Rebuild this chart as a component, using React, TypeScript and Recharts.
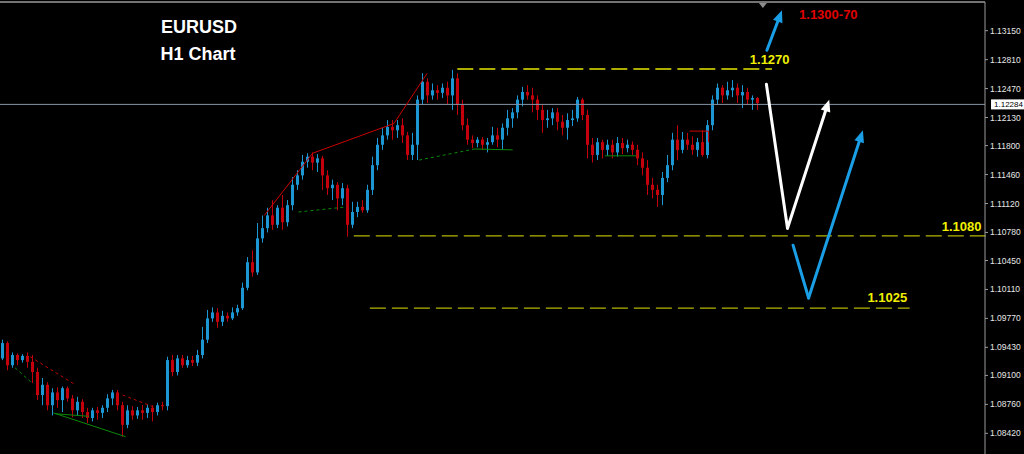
import React from 'react';
import { ComposedChart, Bar, XAxis, YAxis, ReferenceLine, ReferenceDot } from 'recharts';

// ---- candle data (EURUSD H1), open of each bar = previous close ----
const firstOpen = 1.093;
const closes = [
  1.0948,1.0922,1.0934,1.0928,1.0933,1.0926,1.0914,1.0887,1.0899,1.0875,
  1.0890,1.0881,1.0895,1.0883,1.0869,1.0879,1.0867,1.0860,1.0869,1.0866,
  1.0872,1.0883,1.0890,1.0875,1.0852,1.0869,1.0863,1.0869,1.0866,1.0872,
  1.0867,1.0875,1.0874,1.0928,1.0914,1.0930,1.0922,1.0928,1.0925,1.0934,
  1.0952,1.0977,1.0984,1.0973,1.0980,1.0977,1.0984,1.0989,1.1013,1.1043,
  1.1031,1.1071,1.1083,1.1098,1.1087,1.1107,1.1090,1.1110,1.1134,1.1145,
  1.1161,1.1167,1.1160,1.1165,1.1145,1.1130,1.1134,1.1118,1.1130,1.1087,
  1.1102,1.1108,1.1104,1.1128,1.1157,1.1181,1.1192,1.1202,1.1198,1.1204,
  1.1192,1.1169,1.1181,1.1234,1.1255,1.1239,1.1245,1.1242,1.1248,1.1239,
  1.1259,1.1228,1.1204,1.1187,1.1183,1.1187,1.1181,1.1184,1.1192,1.1187,
  1.1201,1.1212,1.1219,1.1234,1.1243,1.1239,1.1234,1.1222,1.1210,1.1212,
  1.1219,1.1208,1.1201,1.1210,1.1212,1.1234,1.1216,1.1181,1.1169,1.1184,
  1.1175,1.1181,1.1172,1.1183,1.1177,1.1181,1.1175,1.1165,1.1154,1.1134,
  1.1128,1.1122,1.1142,1.1157,1.1187,1.1175,1.1187,1.1181,1.1175,1.1184,
  1.1169,1.1204,1.1234,1.1248,1.1239,1.1245,1.1248,1.1239,1.1243,1.1234,
  1.1236,1.1230,
];
const highs = [
  1.0952,1.0950,1.0937,1.0936,1.0935,1.0937,1.0934,1.0919,1.0907,1.0902,
  1.0895,1.0896,1.0897,1.0897,1.0887,1.0885,1.0882,1.0872,1.0872,1.0873,
  1.0875,1.0888,1.0893,1.0893,1.0879,1.0875,1.0874,1.0873,1.0875,1.0876,
  1.0875,1.0878,1.0879,1.0932,1.0934,1.0934,1.0934,1.0933,1.0933,1.0940,
  1.0967,1.0987,1.0990,1.0989,1.0986,1.0984,1.0990,1.0993,1.1019,1.1049,
  1.1057,1.1089,1.1098,1.1107,1.1116,1.1110,1.1122,1.1116,1.1143,1.1151,
  1.1169,1.1171,1.1172,1.1170,1.1168,1.1151,1.1140,1.1137,1.1136,1.1134,
  1.1114,1.1114,1.1116,1.1134,1.1167,1.1189,1.1201,1.1210,1.1210,1.1210,
  1.1212,1.1196,1.1195,1.1239,1.1265,1.1259,1.1253,1.1251,1.1253,1.1255,
  1.1269,1.1265,1.1234,1.1212,1.1192,1.1190,1.1190,1.1189,1.1202,1.1201,
  1.1206,1.1222,1.1224,1.1239,1.1249,1.1251,1.1248,1.1239,1.1228,1.1222,
  1.1224,1.1224,1.1216,1.1218,1.1222,1.1237,1.1236,1.1222,1.1189,1.1189,
  1.1187,1.1187,1.1187,1.1190,1.1189,1.1187,1.1185,1.1181,1.1172,1.1163,
  1.1142,1.1134,1.1149,1.1169,1.1195,1.1204,1.1196,1.1195,1.1191,1.1189,
  1.1198,1.1210,1.1239,1.1253,1.1251,1.1255,1.1257,1.1253,1.1251,1.1248,
  1.1239,1.1237,
];
const lows = [
  1.0928,1.0916,1.0919,1.0922,1.0925,1.0919,1.0901,1.0881,1.0875,1.0869,
  1.0863,1.0872,1.0867,1.0879,1.0861,1.0863,1.0860,1.0854,1.0856,1.0858,
  1.0860,1.0867,1.0875,1.0869,1.0838,1.0848,1.0858,1.0859,1.0858,1.0860,
  1.0856,1.0863,1.0869,1.0869,1.0909,1.0910,1.0919,1.0919,1.0921,1.0921,
  1.0930,1.0948,1.0973,1.0966,1.0968,1.0973,1.0975,1.0980,1.0987,1.1010,
  1.1026,1.1028,1.1066,1.1078,1.1081,1.1083,1.1081,1.1085,1.1104,1.1128,
  1.1140,1.1154,1.1151,1.1149,1.1128,1.1122,1.1116,1.1104,1.1110,1.1073,
  1.1083,1.1096,1.1101,1.1101,1.1122,1.1151,1.1175,1.1187,1.1187,1.1189,
  1.1183,1.1163,1.1163,1.1163,1.1228,1.1230,1.1234,1.1234,1.1236,1.1228,
  1.1222,1.1216,1.1198,1.1181,1.1177,1.1178,1.1175,1.1172,1.1181,1.1178,
  1.1175,1.1192,1.1201,1.1212,1.1226,1.1234,1.1219,1.1210,1.1195,1.1201,
  1.1204,1.1198,1.1192,1.1187,1.1203,1.1208,1.1210,1.1165,1.1160,1.1163,
  1.1165,1.1168,1.1165,1.1167,1.1170,1.1172,1.1169,1.1157,1.1145,1.1122,
  1.1118,1.1108,1.1110,1.1137,1.1151,1.1163,1.1171,1.1175,1.1169,1.1167,
  1.1167,1.1165,1.1198,1.1228,1.1230,1.1234,1.1237,1.1230,1.1224,1.1228,
  1.1222,1.1222,
];
const totalSlots = 197; // bars + empty future space

// ---- axis ----
const priceDomain = [1.08177, 1.13487];
const yTicks = [1.1315, 1.1281, 1.1247, 1.1213, 1.118, 1.1146, 1.1112, 1.1078, 1.1045, 1.1011, 1.0977, 1.0943, 1.091, 1.0876, 1.0842];
const currentPrice = 1.12284;

// ---- annotations (x in bar slots, y in price) ----
const resistance = { price: 1.127, from: 91, to: 153.6 };
const support1 = { price: 1.1074, from: 70.4, to: 196.9 };
const support2 = { price: 1.0989, from: 73.6, to: 181 };
const upArrow = [{ x: 152.6, y: 1.1292 }, { x: 155.6, y: 1.1339 }];
const whitePath = [{ x: 152.5, y: 1.1252 }, { x: 156.7, y: 1.1083 }, { x: 165, y: 1.1234 }];
const bluePath = [{ x: 157.8, y: 1.1063 }, { x: 160.9, y: 1.1001 }, { x: 171.7, y: 1.1198 }];
const redTrend = [{ x: 52.6, y: 1.1098 }, { x: 62.2, y: 1.1171 }, { x: 78.4, y: 1.1206 }, { x: 85, y: 1.1265 }];
const redBox = [{ x: 137.2, y: 1.1197 }, { x: 141, y: 1.1197 }, { x: 141, y: 1.1184 }];
const greenDashed = [
  [{ x: 59.4, y: 1.1102 }, { x: 69, y: 1.1108 }],
  [{ x: 83.4, y: 1.1163 }, { x: 94.4, y: 1.1176 }],
  [{ x: 3, y: 1.0919 }, { x: 6.4, y: 1.0901 }],
];
const greenSolid = [
  [{ x: 94.4, y: 1.1176 }, { x: 102, y: 1.1175 }],
  [{ x: 10.6, y: 1.0866 }, { x: 25, y: 1.0838 }],
  [{ x: 11, y: 1.0865 }, { x: 17.6, y: 1.0862 }],
  [{ x: 120.4, y: 1.1168 }, { x: 126.6, y: 1.1168 }],
];
const redDashed = [
  [{ x: 6, y: 1.0932 }, { x: 15, y: 1.0899 }],
  [{ x: 24.4, y: 1.0887 }, { x: 31, y: 1.0872 }],
];
const levelLabels = [
  { text: '1.1270', x: 149.2, y: 1.1276 },
  { text: '1.1080', x: 187.4, y: 1.108 },
  { text: '1.1025', x: 172.6, y: 1.0996 },
];
const targetLabel = { text: '1.1300-70', x: 159, y: 1.1329 };
const shiftMarker = { x: 151.8, y: 1.13487 };

const BULL = '#1d96d4';
const BEAR = '#c4000c';
const FONT = '"Liberation Sans", Arial, sans-serif';

function Candle(props: any) {
  const { x, y, width, height, payload } = props;
  if (!payload || payload.o == null || !(height > 0)) return null;
  const { o, h, l, c } = payload;
  const k = height / (h - l);
  const top = y + (h - Math.max(o, c)) * k;
  const bot = y + (h - Math.min(o, c)) * k;
  const color = c >= o ? BULL : BEAR;
  const cx = x + width / 2;
  return (
    <g>
      <line x1={cx} x2={cx} y1={y} y2={y + height} stroke={color} strokeWidth={1} />
      <rect x={x} y={top} width={width} height={Math.max(1, bot - top)} fill={color} />
    </g>
  );
}

const arrowShape = (color: string, w: number, head: boolean) => (p: any) => {
  const { x1, y1, x2, y2 } = p;
  const ang = Math.atan2(y2 - y1, x2 - x1);
  const L = 12, W = 5;
  const bx = x2 - L * Math.cos(ang), by = y2 - L * Math.sin(ang);
  const px = -Math.sin(ang) * W, py = Math.cos(ang) * W;
  return (
    <g>
      <line x1={x1} y1={y1} x2={head ? bx : x2} y2={head ? by : y2} stroke={color} strokeWidth={w} strokeLinecap="round" />
      {head && <polygon points={`${x2},${y2} ${bx + px},${by + py} ${bx - px},${by - py}`} fill={color} />}
    </g>
  );
};

function polylineSegments(pts: { x: number; y: number }[], key: string, extra: any) {
  const out: any[] = [];
  for (let i = 0; i < pts.length - 1; i++) {
    out.push(
      <ReferenceLine key={key + i} xAxisId="n" segment={[pts[i], pts[i + 1]]} ifOverflow="visible" {...extra} />
    );
  }
  return out;
}

export default function App() {
  const table = Array.from({ length: totalSlots }, (_, i) => {
    if (i < closes.length) {
      const o = i === 0 ? firstOpen : closes[i - 1];
      return { i, o, h: highs[i], l: lows[i], c: closes[i], range: [lows[i], highs[i]] };
    }
    return { i, range: null };
  });

  const textDot = (text: string, color: string) => (p: any) => (
    <text x={p.cx} y={p.cy} fill={color} fontFamily={FONT} fontWeight="bold" fontSize={13}>{text}</text>
  );

  return (
    <div style={{ position: 'fixed', left: 0, top: 0, width: 1024, height: 454, background: '#000', overflow: 'hidden' }}>
      <ComposedChart width={1024} height={454} data={table} margin={{ top: 2, right: 0, bottom: 0, left: 0 }}>
        <XAxis dataKey="i" type="category" hide />
        <XAxis xAxisId="n" type="number" domain={[0, totalSlots]} hide allowDataOverflow />
        <YAxis
          orientation="right"
          width={39}
          domain={priceDomain}
          allowDataOverflow
          ticks={yTicks}
          interval={0}
          tickFormatter={(v: number) => v.toFixed(5)}
          tick={{ fill: '#e6e6e6', fontSize: 8.5, fontFamily: FONT }}
          tickSize={3}
          tickLine={{ stroke: '#9a9a9a' }}
          axisLine={{ stroke: '#9a9a9a' }}
        />
        <ReferenceLine y={priceDomain[1]} stroke="#9a9a9a" strokeWidth={1.5} ifOverflow="visible" />
        <ReferenceLine y={currentPrice} stroke="#8595a8" strokeWidth={1} />

        {polylineSegments(redDashed[0], 'rd0', { stroke: '#c00000', strokeDasharray: '3 3' })}
        {polylineSegments(redDashed[1], 'rd1', { stroke: '#c00000', strokeDasharray: '3 3' })}
        {greenDashed.map((s, i) => polylineSegments(s, 'gd' + i, { stroke: '#0a8a0a', strokeDasharray: '3 3' }))}
        {greenSolid.map((s, i) => polylineSegments(s, 'gs' + i, { stroke: '#0a8a0a' }))}
        {polylineSegments(redTrend, 'rt', { stroke: '#cc0000' })}
        {polylineSegments(redBox, 'rb', { stroke: '#cc0000' })}

        <Bar dataKey="range" barSize={3} shape={<Candle />} isAnimationActive={false} />

        <ReferenceLine xAxisId="n" ifOverflow="visible" segment={[{ x: resistance.from, y: resistance.price }, { x: resistance.to, y: resistance.price }]} stroke="#e6e600" strokeWidth={1.3} strokeDasharray="16 6" />
        <ReferenceLine xAxisId="n" ifOverflow="visible" segment={[{ x: support1.from, y: support1.price }, { x: support1.to, y: support1.price }]} stroke="#b4b400" strokeWidth={1.3} strokeDasharray="16 6" />
        <ReferenceLine xAxisId="n" ifOverflow="visible" segment={[{ x: support2.from, y: support2.price }, { x: support2.to, y: support2.price }]} stroke="#b4b400" strokeWidth={1.3} strokeDasharray="16 6" />

        <ReferenceLine xAxisId="n" segment={[upArrow[0], upArrow[1]]} ifOverflow="visible" shape={arrowShape('#1a9ee6', 3, true)} />
        <ReferenceLine xAxisId="n" segment={[whitePath[0], whitePath[1]]} ifOverflow="visible" shape={arrowShape('#ffffff', 3, false)} />
        <ReferenceLine xAxisId="n" segment={[whitePath[1], whitePath[2]]} ifOverflow="visible" shape={arrowShape('#ffffff', 3, true)} />
        <ReferenceLine xAxisId="n" segment={[bluePath[0], bluePath[1]]} ifOverflow="visible" shape={arrowShape('#1a9ee6', 3, false)} />
        <ReferenceLine xAxisId="n" segment={[bluePath[1], bluePath[2]]} ifOverflow="visible" shape={arrowShape('#1a9ee6', 3, true)} />

        {levelLabels.map((lb) => (
          <ReferenceDot key={lb.text} xAxisId="n" x={lb.x} y={lb.y} r={0} ifOverflow="visible" shape={textDot(lb.text, '#f0f000')} />
        ))}
        <ReferenceDot xAxisId="n" x={targetLabel.x} y={targetLabel.y} r={0} ifOverflow="visible" shape={textDot(targetLabel.text, '#e00000')} />
        <ReferenceDot
          xAxisId="n"
          x={shiftMarker.x}
          y={shiftMarker.y}
          r={0}
          ifOverflow="visible"
          shape={(p: any) => <polygon points={`${p.cx - 4},${p.cy + 1} ${p.cx + 4},${p.cy + 1} ${p.cx},${p.cy + 6}`} fill="#8c8c8c" />}
        />
        <ReferenceDot
          xAxisId="n"
          x={totalSlots}
          y={currentPrice}
          r={0}
          ifOverflow="visible"
          shape={(p: any) => (
            <g>
              <rect x={p.cx + 1} y={p.cy - 5} width={38} height={10} fill="#ffffff" />
              <text x={p.cx + 4} y={p.cy + 3} fill="#000" fontFamily={FONT} fontSize={8}>{currentPrice.toFixed(5)}</text>
            </g>
          )}
        />
      </ComposedChart>
      <svg width={1024} height={454} style={{ position: 'absolute', left: 0, top: 0, pointerEvents: 'none' }}>
        <text x={199} y={33} textAnchor="middle" fill="#ffffff" fontFamily={FONT} fontWeight="bold" fontSize={18}>EURUSD</text>
        <text x={198} y={60} textAnchor="middle" fill="#ffffff" fontFamily={FONT} fontWeight="bold" fontSize={18}>H1 Chart</text>
      </svg>
    </div>
  );
}
